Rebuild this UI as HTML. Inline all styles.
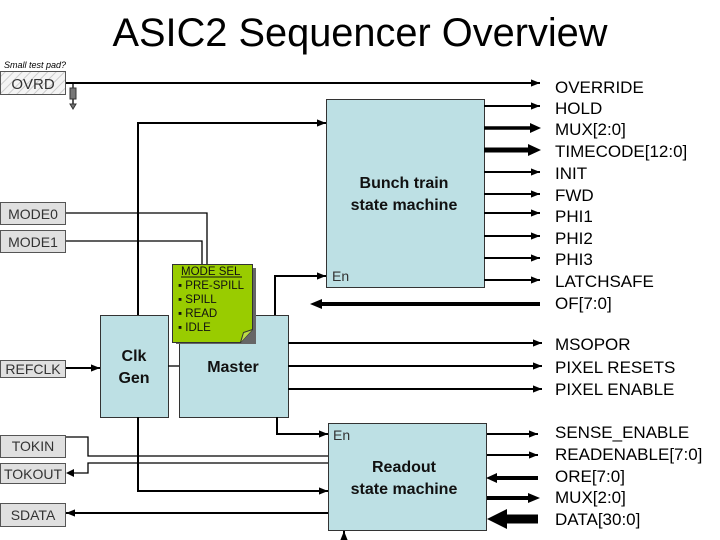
<!DOCTYPE html>
<html><head><meta charset="utf-8"><style>body{margin:0;background:#fff}svg{display:block}text{font-family:"Liberation Sans",sans-serif}</style></head><body>
<svg width="720" height="540" viewBox="0 0 720 540" xmlns="http://www.w3.org/2000/svg">
<defs>
<marker id="a" viewBox="0 0 10 10" refX="10" refY="5" markerWidth="9" markerHeight="9" markerUnits="userSpaceOnUse" orient="auto"><path d="M0,1 L10,5 L0,9 z" fill="#000"/></marker>
<pattern id="h" width="6" height="6" patternUnits="userSpaceOnUse" patternTransform="rotate(45)"><rect width="6" height="6" fill="#f4f4f4"/><line x1="0" y1="0" x2="0" y2="6" stroke="#ccc" stroke-width="2"/></pattern>
</defs>
<text x="360" y="46" font-size="40" text-anchor="middle" textLength="495" lengthAdjust="spacingAndGlyphs">ASIC2 Sequencer Overview</text>
<text x="4" y="68" font-size="9" font-style="italic">Small test pad?</text>
<g fill="#e0e0e0" stroke="#555" stroke-width="1">
<rect x="0.5" y="71.5" width="65" height="23" fill="url(#h)"/>
<rect x="0.5" y="202.5" width="65" height="22"/>
<rect x="0.5" y="230.5" width="65" height="22"/>
<rect x="0.5" y="360.5" width="65" height="17"/>
<rect x="0.5" y="435.5" width="65" height="22"/>
<rect x="0.5" y="463.5" width="65" height="20"/>
<rect x="0.5" y="503.5" width="65" height="23"/>
</g>
<g font-size="14" fill="#333" text-anchor="middle">
<text x="33" y="89" font-size="15">OVRD</text>
<text x="33" y="219">MODE0</text>
<text x="33" y="247">MODE1</text>
<text x="33" y="374">REFCLK</text>
<text x="33" y="451">TOKIN</text>
<text x="33" y="479">TOKOUT</text>
<text x="33" y="520">SDATA</text>
</g>
<g fill="#bde0e4" stroke="#333" stroke-width="1">
<rect x="326.5" y="99.5" width="158" height="188"/>
<rect x="100.5" y="315.5" width="68" height="102"/>
<rect x="179.5" y="315.5" width="109" height="102"/>
<rect x="328.5" y="423.5" width="158" height="107"/>
</g>
<g font-size="16" text-anchor="middle" fill="#111" font-weight="bold">
<text x="404" y="188">Bunch train</text><text x="404" y="210">state machine</text>
<text x="134" y="361">Clk</text><text x="134" y="383">Gen</text>
<text x="233" y="372">Master</text>
<text x="404" y="472">Readout</text><text x="404" y="494">state machine</text>
</g>
<text x="332" y="281" font-size="14" fill="#333">En</text>
<text x="333" y="440" font-size="14" fill="#333">En</text>
<g stroke="#000" stroke-width="2" fill="none">
<line x1="66" y1="83" x2="540" y2="83" marker-end="url(#a)"/>
<polyline points="138,315 138,123 326,123" marker-end="url(#a)"/>
<polyline points="275,315 275,276 326,276" marker-end="url(#a)"/>
<line x1="484" y1="106" x2="540" y2="106" marker-end="url(#a)"/>
<line x1="484" y1="172" x2="540" y2="172" marker-end="url(#a)"/>
<line x1="484" y1="194" x2="540" y2="194" marker-end="url(#a)"/>
<line x1="484" y1="213" x2="540" y2="213" marker-end="url(#a)"/>
<line x1="484" y1="236" x2="540" y2="236" marker-end="url(#a)"/>
<line x1="484" y1="258" x2="540" y2="258" marker-end="url(#a)"/>
<line x1="484" y1="280" x2="540" y2="280" marker-end="url(#a)"/>
<line x1="288" y1="343" x2="542" y2="343" marker-end="url(#a)"/>
<line x1="288" y1="366" x2="542" y2="366" marker-end="url(#a)"/>
<line x1="288" y1="389" x2="542" y2="389" marker-end="url(#a)"/>
<line x1="66" y1="368" x2="100" y2="368" marker-end="url(#a)"/>
<polyline points="277,417 277,434 328,434" marker-end="url(#a)"/>
<polyline points="138,417 138,491 328,491" marker-end="url(#a)"/>
<line x1="328" y1="513" x2="66" y2="513" marker-end="url(#a)"/>
<line x1="487" y1="434" x2="538" y2="434" marker-end="url(#a)"/>
<line x1="487" y1="455" x2="538" y2="455" marker-end="url(#a)"/>
<line x1="344" y1="540" x2="344" y2="531" marker-end="url(#a)"/>
</g>
<g stroke="#000" stroke-width="1.3" fill="none">
<polyline points="66,213 207,213 207,264"/>
<polyline points="66,241 202,241 202,264"/>
<polyline points="66,437 88,437 88,456 328,456"/>
<polyline points="328,463 88,463 88,473 68,473"/>
<line x1="168" y1="366" x2="179" y2="366"/>
<line x1="73" y1="83" x2="73" y2="104"/>
</g>
<path d="M66,473 l8,-4 v8z" fill="#000"/>
<rect x="70" y="88" width="6" height="11" fill="#777" stroke="#333"/>
<path d="M70,104 h6 l-3,5z" fill="#777" stroke="#333"/>
<g stroke="#000" fill="#000">
<line x1="484" y1="128" x2="532" y2="128" stroke-width="3.5"/><path d="M530,123 L541,128 L530,133z" stroke="none"/>
<line x1="484" y1="150" x2="530" y2="150" stroke-width="5"/><path d="M528,144 L541,150 L528,156z" stroke="none"/>
<line x1="540" y1="304" x2="320" y2="304" stroke-width="4"/><path d="M322,299 L310,304 L322,309z" stroke="none"/>
<line x1="538" y1="478" x2="495" y2="478" stroke-width="4"/><path d="M497,473 L486,478 L497,483z" stroke="none"/>
<line x1="487" y1="498" x2="530" y2="498" stroke-width="4"/><path d="M528,493 L540,498 L528,503z" stroke="none"/>
<line x1="538" y1="519" x2="505" y2="519" stroke-width="9"/><path d="M507,509 L487,519 L507,529z" stroke="none"/>
</g>
<g font-size="17" fill="#000">
<text x="555" y="93">OVERRIDE</text><text x="555" y="114">HOLD</text><text x="555" y="135">MUX[2:0]</text>
<text x="555" y="157">TIMECODE[12:0]</text><text x="555" y="179">INIT</text><text x="555" y="201">FWD</text>
<text x="555" y="222">PHI1</text><text x="555" y="244">PHI2</text><text x="555" y="265">PHI3</text>
<text x="555" y="287">LATCHSAFE</text><text x="555" y="309">OF[7:0]</text>
<text x="555" y="350">MSOPOR</text><text x="555" y="373">PIXEL RESETS</text><text x="555" y="395">PIXEL ENABLE</text>
<text x="555" y="438">SENSE_ENABLE</text><text x="555" y="460">READENABLE[7:0]</text><text x="555" y="482">ORE[7:0]</text>
<text x="555" y="503">MUX[2:0]</text><text x="555" y="525">DATA[30:0]</text>
</g>
<path d="M176,268 h80 v76 h-80z" fill="#666"/>
<path d="M172.5,264.5 h80 v65 l-12,13 h-68z" fill="#99cc00" stroke="#333"/>
<path d="M240.5,342.5 l3,-10 l9,-3" fill="#bbdd44" stroke="#333"/>
<g font-size="11.5" fill="#111">
<text x="181" y="275">MODE SEL</text><line x1="181" y1="277" x2="242" y2="277" stroke="#111"/>
<text x="178" y="289">▪ PRE-SPILL</text><text x="178" y="303">▪ SPILL</text><text x="178" y="317">▪ READ</text><text x="178" y="331">▪ IDLE</text>
</g>
</svg>
</body></html>
